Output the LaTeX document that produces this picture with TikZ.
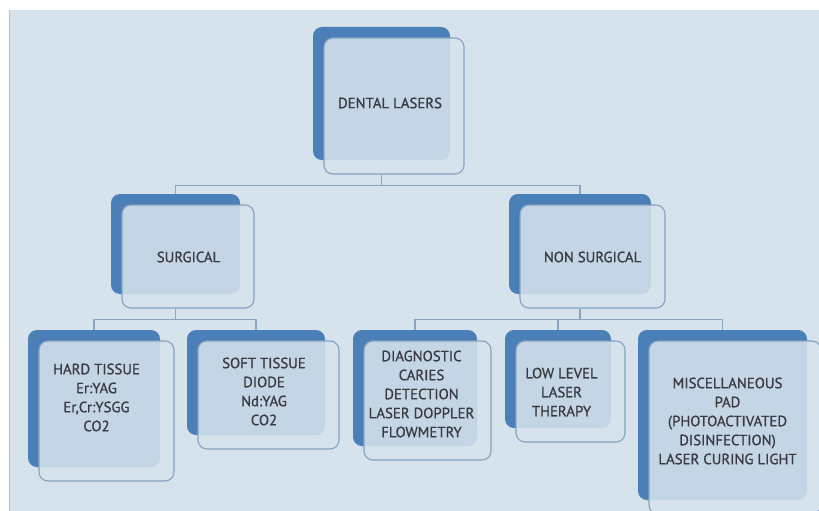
\documentclass[tikz,border=0pt]{standalone}
\usepackage{fontspec}
\setmainfont{PT Sans}
\newfontfamily\cardfont{PT Sans}[FakeBold=0.9]
\usetikzlibrary{positioning}
\definecolor{paper}{HTML}{D6E2EC}
\definecolor{laserblue}{HTML}{4A7FB7}
\definecolor{rim}{HTML}{86A3C3}
\definecolor{wire}{HTML}{8AA4C0}
\definecolor{ink}{HTML}{3A3A42}
\definecolor{edge}{HTML}{B9BEC4}
\tikzset{
  % the solid blue card behind each box
  backcard/.style 2 args={
    fill=laserblue, rounded corners=9pt, inner sep=0pt,
    minimum width=#1, minimum height=#2},
  % the pale card laid over it, a little lower and to the right
  frontcard/.style 2 args={
    fill=paper, fill opacity=0.88, draw=rim, line width=1.1pt,
    rounded corners=9pt, inner sep=0pt,
    minimum width=#1+3pt, minimum height=#2+3pt,
    xshift=12.5pt, yshift=-12.5pt},
  cardtext/.style={text=ink, align=center, inner sep=0pt,
    font=\cardfont\fontsize{14.8}{19}\selectfont},
  % Tree lines
  link/.style={draw=wire, line width=1.1pt},
}

\begin{document}
\begin{tikzpicture}[x=1pt, y=-1pt]

  \useasboundingbox (0,0) rectangle (819,511);
  \clip (0,0) rectangle (819,511);
  \fill[white] (0,0) rectangle (819,511);
  \fill[paper] (9,10) rectangle (819,511);
  \draw[edge, line width=1pt] (9,10) -- (9,511);

  % top
  \node[backcard={137pt}{133pt}]  (rootback) at (381.5,93.5) {};
  \node[frontcard={137pt}{133pt}] (rootcard) at (rootback.center) {};
  \node[cardtext] (root) at (390,103) {DENTAL LASERS};

  % second row
  \node[backcard={129pt}{100pt}]  (surgback) at (175.5,244) {};
  \node[frontcard={129pt}{100pt}] (surgcard) at (surgback.center) {};
  \node[cardtext] (surg) at (188.5,257) {SURGICAL};

  \node[backcard={142pt}{100pt}]  (nonsback) at (580,244) {};
  \node[frontcard={142pt}{100pt}] (nonscard) at (nonsback.center) {};
  \node[cardtext] (nons) at (592.5,257) {NON SURGICAL};

  % third row
  \node[backcard={132pt}{137pt}]  (hardback) at (94,398.5) {};
  \node[frontcard={132pt}{137pt}] (hardcard) at (hardback.center) {};
  \node[cardtext] (hard) at (96.5,397.5) {HARD TISSUE\\Er:YAG\\Er,Cr:YSGG\\CO2};

  \node[backcard={138pt}{105pt}]  (softback) at (256,382.5) {};
  \node[frontcard={138pt}{105pt}] (softcard) at (softback.center) {};
  \node[cardtext] (soft) at (264,391.5) {SOFT TISSUE\\DIODE\\Nd:YAG\\CO2};

  \node[backcard={124pt}{116pt}]  (diagback) at (415,388) {};
  \node[frontcard={124pt}{116pt}] (diagcard) at (diagback.center) {};
  \node[cardtext] (diag) at (421.5,394)
       {DIAGNOSTIC\\CARIES\\DETECTION\\LASER DOPPLER\\FLOWMETRY};

  \node[backcard={106pt}{98pt}]   (lllback) at (558,379) {};
  \node[frontcard={106pt}{98pt}]  (lllcard) at (lllback.center) {};
  \node[cardtext] (lll) at (561.5,392) {LOW LEVEL\\LASER\\THERAPY};

  \node[backcard={169pt}{170pt}]  (miscback) at (722.5,415) {};
  \node[frontcard={169pt}{170pt}] (misccard) at (miscback.center) {};
  \node[cardtext] (misc) at (727.5,421)
       {MISCELLANEOUS\\PAD\\(PHOTOACTIVATED\\DISINFECTION)\\LASER CURING LIGHT};

  \draw[link] (rootback.south |- rootcard.south) -- ++(0,11) -| (surgback.north);
  \draw[link] (rootback.south |- rootcard.south) -- ++(0,11) -| (nonsback.north);

  \draw[link] (surgback.south |- surgcard.south) -- ++(0,11) -| (hardback.north);
  \draw[link] (surgback.south |- surgcard.south) -- ++(0,11) -| (softback.north);

  \draw[link] (nonsback.south |- nonscard.south) -- ++(0,11) -| (diagback.north);
  \draw[link] (nonsback.south |- nonscard.south) -- ++(0,11) -| (lllback.north);
  \draw[link] (nonsback.south |- nonscard.south) -- ++(0,11) -| (miscback.north);

\end{tikzpicture}
\end{document}
